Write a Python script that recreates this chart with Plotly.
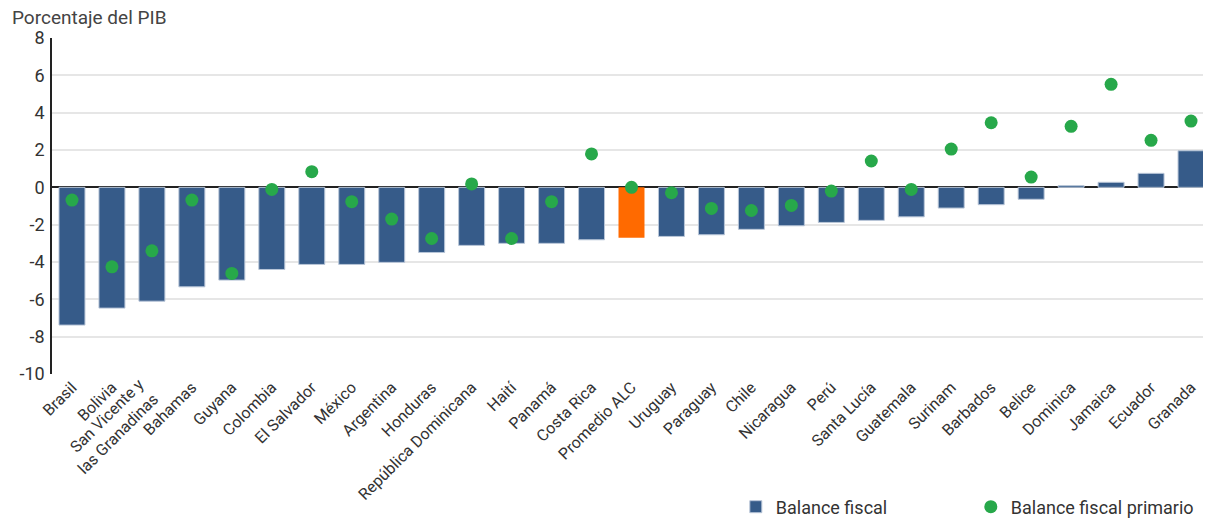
import plotly.graph_objects as go

# --- data ------------------------------------------------------------------
countries = [
    "Brasil", "Bolivia", "San Vicente y las Granadinas", "Bahamas", "Guyana",
    "Colombia", "El Salvador", "México", "Argentina", "Honduras",
    "República Dominicana", "Haití", "Panamá", "Costa Rica", "Promedio ALC",
    "Uruguay", "Paraguay", "Chile", "Nicaragua", "Perú", "Santa Lucía",
    "Guatemala", "Surinam", "Barbados", "Belice", "Dominica", "Jamaica",
    "Ecuador", "Granada",
]
# axis labels; the long two-line one is drawn as an annotation so both lines
# sit centred on the tick like in the reference
tick_labels = [
    "Brasil", "Bolivia", "", "Bahamas", "Guyana",
    "Colombia", "El Salvador", "México", "Argentina", "Honduras",
    "República Dominicana", "Haití", "Panamá", "Costa Rica", "Promedio ALC",
    "Uruguay", "Paraguay", "Chile", "Nicaragua", "Perú", "Santa Lucía",
    "Guatemala", "Surinam", "Barbados", "Belice", "Dominica", "Jamaica",
    "Ecuador", "Granada",
]
two_line_label = "San Vicente y<br>las Granadinas"
balance_fiscal = [
    -7.38, -6.47, -6.10, -5.33, -4.97, -4.40, -4.13, -4.13, -4.02, -3.49,
    -3.11, -3.00, -3.00, -2.81, -2.70, -2.63, -2.54, -2.25, -2.06, -1.88,
    -1.77, -1.58, -1.11, -0.93, -0.64, 0.09, 0.27, 0.75, 1.96,
]
balance_primario = [
    -0.68, -4.26, -3.40, -0.68, -4.61, -0.11, 0.84, -0.77, -1.70, -2.74,
    0.18, -2.74, -0.77, 1.79, 0.00, -0.29, -1.13, -1.24, -0.97, -0.20,
    1.41, -0.11, 2.05, 3.46, 0.55, 3.27, 5.52, 2.52, 3.55,
]
y_ticks = [-10, -8, -6, -4, -2, 0, 2, 4, 6, 8]
y_tick_text = ["-10", "-8", "-6", "-4", "-2", "0", "2", "4", "6", "8"]

BLUE = "#365b89"
ORANGE = "#ff6a00"
GREEN = "#27a84a"
FONT = "Roboto"

bar_colors = [ORANGE if c == "Promedio ALC" else BLUE for c in countries]
bar_lines = ["rgba(0,0,0,0)" if c == "Promedio ALC" else "#b9c6d8" for c in countries]

fig = go.Figure()
fig.add_trace(go.Bar(
    x=countries, y=balance_fiscal, name="Balance fiscal",
    marker=dict(color=bar_colors, line=dict(color=bar_lines, width=1)),
))
fig.add_trace(go.Scatter(
    x=countries, y=balance_primario, name="Balance fiscal primario",
    mode="markers", marker=dict(color=GREEN, size=13),
))

# page body has an 8px margin, so the figure is 8px smaller than the window
fig.update_layout(
    width=1203, height=514,
    margin=dict(l=44, r=0, t=30, b=148, autoexpand=False),
    plot_bgcolor="white", paper_bgcolor="white",
    font=dict(family=FONT, color="#333333"),
    bargap=0.35,
    showlegend=True,
    legend=dict(
        orientation="h", xref="container", yref="container",
        x=0.605, y=0.0292, xanchor="left", yanchor="middle",
        font=dict(size=18, color="#333333"),
        entrywidth=190, entrywidthmode="pixels",
        traceorder="normal",
    ),
    annotations=[
        dict(
            text="Porcentaje del PIB", xref="paper", yref="paper",
            x=-0.0362, y=1.062, xanchor="left", yanchor="middle",
            showarrow=False, font=dict(size=19, color="#444444"),
        ),
        dict(
            text=two_line_label, xref="x", yref="paper",
            x=countries[2], y=0, xanchor="right", yanchor="top",
            xshift=14, yshift=2, textangle=-45, align="right",
            showarrow=False, font=dict(size=16, color="#333333"),
        ),
    ],
)
fig.update_xaxes(
    range=[-0.5, len(countries) - 0.5],
    tickvals=countries, ticktext=tick_labels,
    tickangle=-45, tickfont=dict(size=16, color="#333333"),
    showgrid=False, showline=False, ticks="", automargin=False,
)
fig.update_yaxes(
    range=[-10, 8], tickvals=y_ticks, ticktext=y_tick_text,
    tickfont=dict(size=18, color="#333333"),
    showgrid=True, gridcolor="#e6e6e6", gridwidth=1.5,
    zeroline=True, zerolinecolor="#222222", zerolinewidth=1.5,
    showline=True, linecolor="#222222", linewidth=1.5,
    ticks="", ticklen=0, ticklabelstandoff=2, automargin=False,
)

fig.write_html("out.html")
